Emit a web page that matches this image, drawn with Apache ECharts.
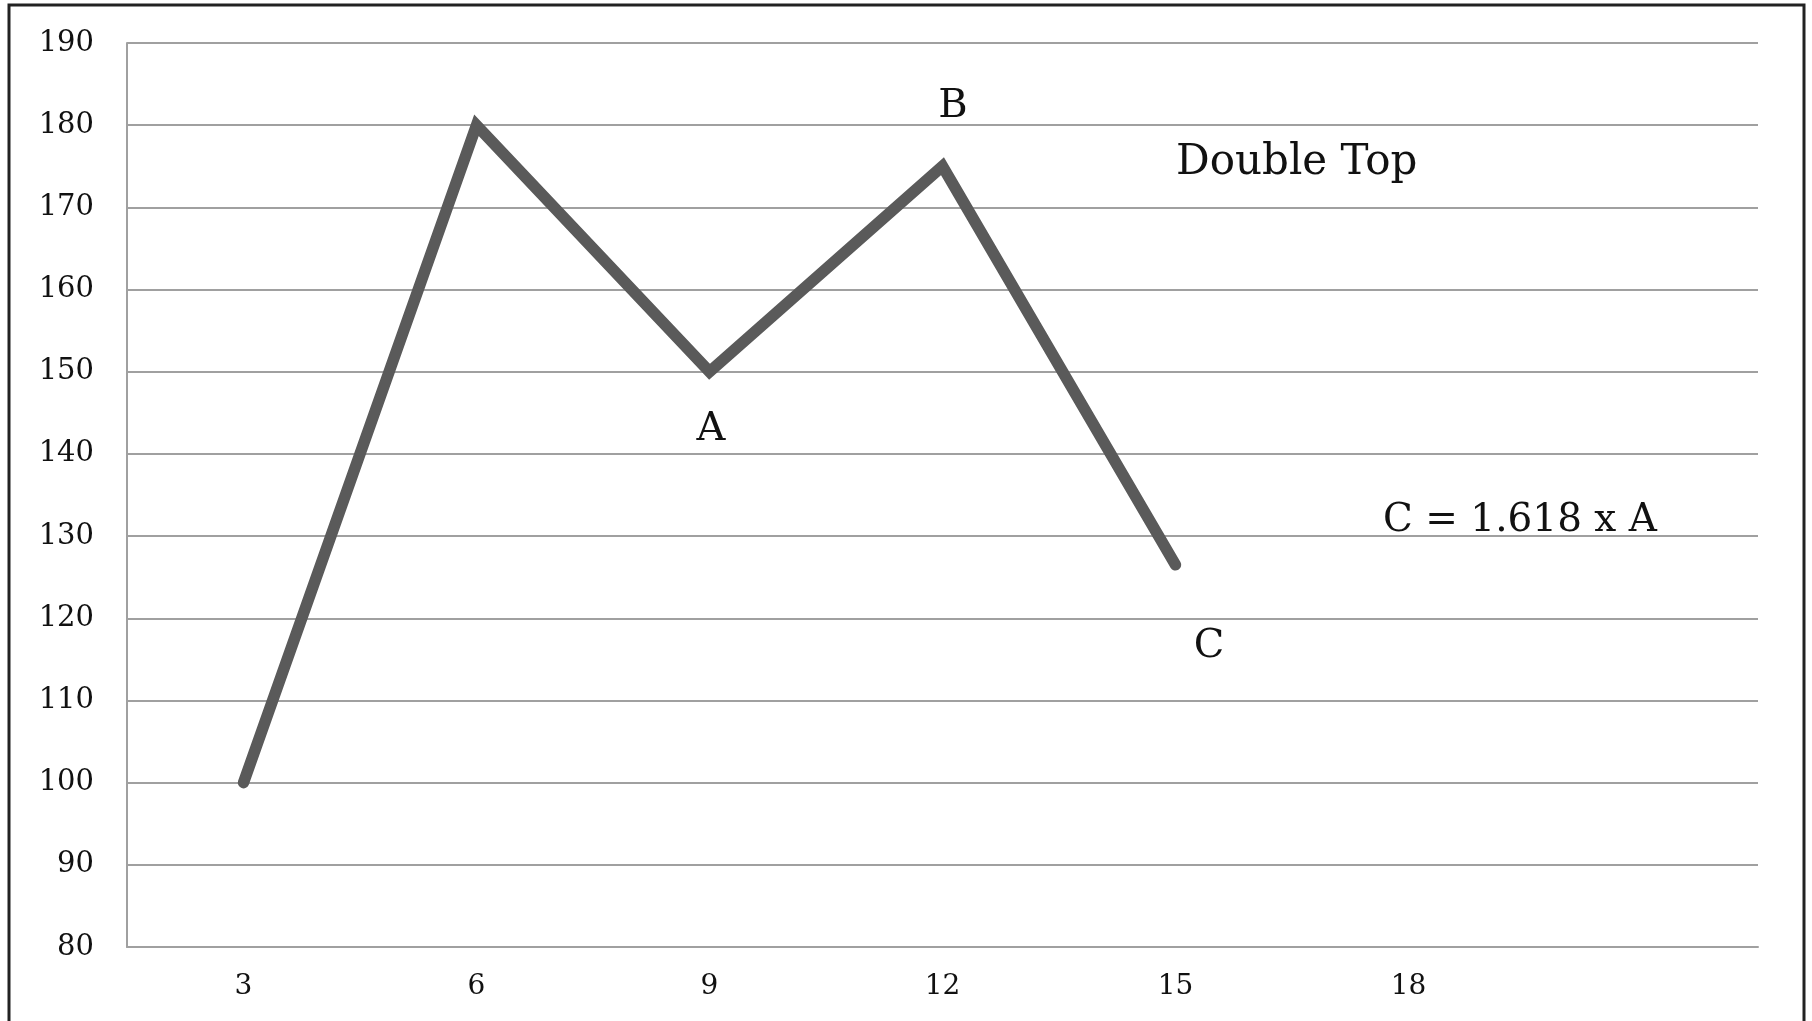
<!DOCTYPE html>
<html>
<head>
<meta charset="utf-8">
<script src="https://cdn.jsdelivr.net/npm/echarts@6/dist/echarts.min.js"></script>
<style>
html,body{margin:0;padding:0;background:#fff;}
#chart{width:1812px;height:1021px;}
</style>
</head>
<body>
<div id="chart"></div>
<script>
var categories = ['3', '6', '9', '12', '15', '18', ''];
var values = [100, 180, 150, 175, 126.5];
var yTicks = { min: 80, max: 190, interval: 10 };

var chart = echarts.init(document.getElementById('chart'), null, { renderer: 'canvas' });
var serif = '"DejaVu Serif", "Liberation Serif", serif';

chart.setOption({
  backgroundColor: '#ffffff',
  animation: false,
  grid: { left: 127, right: 54, top: 43, bottom: 74, containLabel: false },
  xAxis: {
    type: 'category',
    data: categories,
    boundaryGap: true,
    axisLine: { show: true, lineStyle: { color: '#a0a0a0', width: 2 } },
    axisTick: { show: false },
    axisLabel: { color: '#111', fontFamily: serif, fontSize: 28, margin: 26 },
    splitLine: { show: false }
  },
  yAxis: {
    type: 'value',
    min: yTicks.min, max: yTicks.max, interval: yTicks.interval,
    axisLine: { show: true, lineStyle: { color: '#a0a0a0', width: 2 } },
    axisTick: { show: false },
    axisLabel: { color: '#111', fontFamily: serif, fontSize: 29, margin: 33, verticalAlign: 'middle', lineHeight: 29, padding: [14, 0, 0, 0] },
    splitLine: { show: true, lineStyle: { color: '#a0a0a0', width: 2 } }
  },
  series: [{
    type: 'line',
    data: values,
    symbol: 'none',
    lineStyle: { color: '#5a5a5a', width: 11.5, cap: 'round', join: 'miter' },
    z: 5
  }],
  graphic: [
    { type: 'rect', shape: { x: 9, y: 5, width: 1795, height: 1030 }, style: { fill: 'none', stroke: '#222', lineWidth: 3 }, silent: true },
    { type: 'text', x: 953, y: 107, style: { text: 'B', font: '40px ' + serif, fill: '#111', textAlign: 'center', textVerticalAlign: 'middle' } },
    { type: 'text', x: 711, y: 430, style: { text: 'A', font: '40px ' + serif, fill: '#111', textAlign: 'center', textVerticalAlign: 'middle' } },
    { type: 'text', x: 1209, y: 647, style: { text: 'C', font: '40px ' + serif, fill: '#111', textAlign: 'center', textVerticalAlign: 'middle' } },
    { type: 'text', x: 1176, y: 163, style: { text: 'Double Top', font: '42px ' + serif, fill: '#111', textAlign: 'left', textVerticalAlign: 'middle' } },
    { type: 'text', x: 1383, y: 521, style: { text: 'C = 1.618 x A', font: '39px ' + serif, fill: '#111', textAlign: 'left', textVerticalAlign: 'middle' } }
  ]
});
</script>
</body>
</html>
